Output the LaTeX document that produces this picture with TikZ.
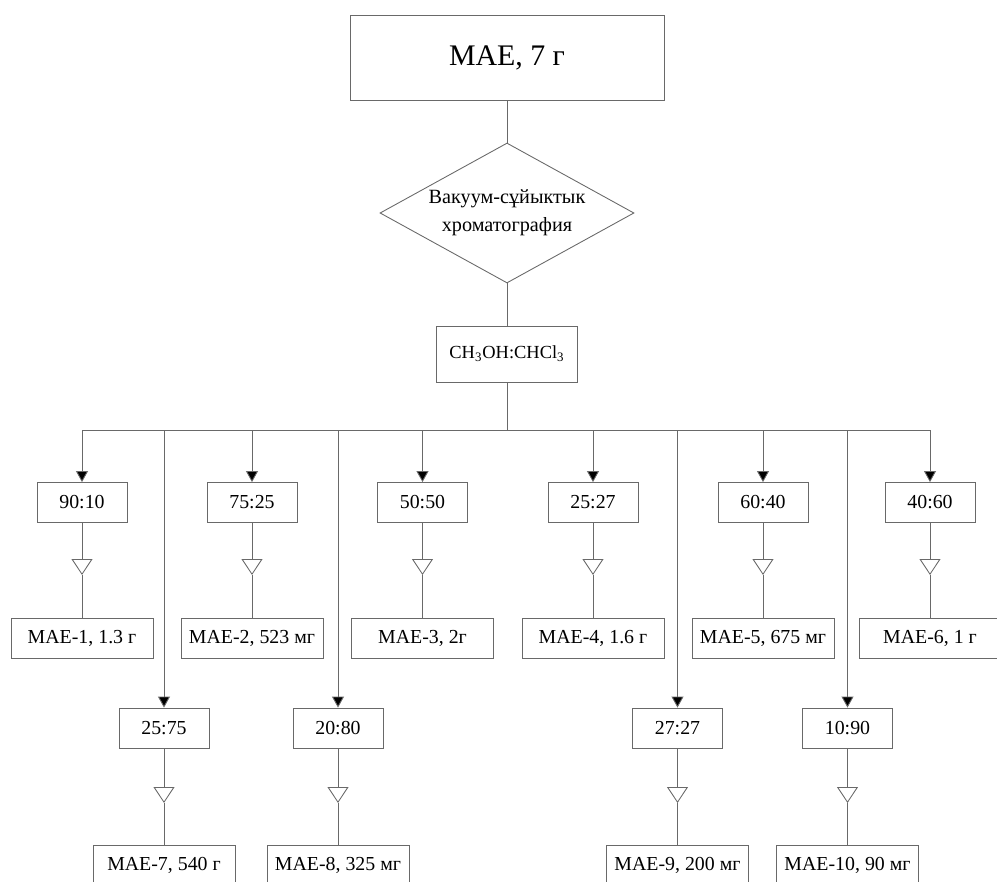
\documentclass[tikz,border=0pt]{standalone}
\usepackage{fontspec}
\setmainfont{Liberation Serif}
\usepackage{xcolor}
\usetikzlibrary{arrows.meta,positioning,shapes.geometric}
\definecolor{lineGray}{RGB}{105,105,105}

\tikzset{
  box/.style={draw=lineGray, line width=0.5pt, fill=white, inner sep=0pt, align=center},
  ratio/.style={box, minimum width=1.8cm, minimum height=0.8cm, font=\fontsize{11.3}{13}\selectfont},
  result/.style={box, minimum width=2.84cm, minimum height=0.8cm, font=\fontsize{11.3}{13}\selectfont},
  link/.style={draw=lineGray, line width=0.5pt},
  feed/.style={link, -{Triangle[length=2.2mm, width=2.4mm, fill=black]}},
  yield/.style={link, -{Triangle[open, length=3.2mm, width=4.2mm]}}
}

\begin{document}
\begin{tikzpicture}
\useasboundingbox (0,0) rectangle (19.94,-17.64);

\node[box, minimum width=6.28cm, minimum height=1.7cm, font=\fontsize{17}{20}\selectfont] (mae) at (10.14,-1.15) {MAE, 7 г};
\node[draw=lineGray, line width=0.5pt, diamond, aspect=1.81, minimum width=5.08cm, minimum height=2.8cm, inner sep=0pt, align=center, font=\fontsize{11.5}{15.8}\selectfont] (vlc) at (10.14,-4.26) {Вакуум-сұйыктык\\хроматография};
\node[box, minimum width=2.82cm, minimum height=1.12cm, font=\fontsize{10.5}{13}\selectfont] (solv) at (10.14,-7.08) {CH\textsubscript{3}OH:CHCl\textsubscript{3}};

% bus under the solvent box
\coordinate (hub) at (10.14,-8.6);
\coordinate (b1) at (1.64,-8.6);
\coordinate (b7) at (3.28,-8.6);
\coordinate (b2) at (5.04,-8.6);
\coordinate (b8) at (6.76,-8.6);
\coordinate (b3) at (8.45,-8.6);
\coordinate (b4) at (11.86,-8.6);
\coordinate (b9) at (13.55,-8.6);
\coordinate (b5) at (15.26,-8.6);
\coordinate (b10) at (16.95,-8.6);
\coordinate (b6) at (18.6,-8.6);

% first row
\node[ratio] (r1) at (1.64,-10.05) {90:10};
\node[ratio] (r2) at (5.04,-10.05) {75:25};
\node[ratio] (r3) at (8.45,-10.05) {50:50};
\node[ratio] (r4) at (11.86,-10.05) {25:27};
\node[ratio] (r5) at (15.26,-10.05) {60:40};
\node[ratio] (r6) at (18.6,-10.05) {40:60};

\coordinate (t1) at (1.64,-11.5);
\coordinate (t2) at (5.04,-11.5);
\coordinate (t3) at (8.45,-11.5);
\coordinate (t4) at (11.86,-11.5);
\coordinate (t5) at (15.26,-11.5);
\coordinate (t6) at (18.6,-11.5);

\node[result] (m1) at (1.64,-12.76) {MAE-1, 1.3 г};
\node[result] (m2) at (5.04,-12.76) {MAE-2, 523 мг};
\node[result] (m3) at (8.45,-12.76) {MAE-3, 2г};
\node[result] (m4) at (11.86,-12.76) {MAE-4, 1.6 г};
\node[result] (m5) at (15.26,-12.76) {MAE-5, 675 мг};
\node[result] (m6) at (18.6,-12.76) {MAE-6, 1 г};

% second row
\node[ratio] (r7) at (3.28,-14.56) {25:75};
\node[ratio] (r8) at (6.76,-14.56) {20:80};
\node[ratio] (r9) at (13.55,-14.56) {27:27};
\node[ratio] (r10) at (16.95,-14.56) {10:90};

\coordinate (t7) at (3.28,-16.06);
\coordinate (t8) at (6.76,-16.06);
\coordinate (t9) at (13.55,-16.06);
\coordinate (t10) at (16.95,-16.06);

\node[result] (m7) at (3.28,-17.3) {MAE-7, 540 г};
\node[result] (m8) at (6.76,-17.3) {MAE-8, 325 мг};
\node[result] (m9) at (13.55,-17.3) {MAE-9, 200 мг};
\node[result] (m10) at (16.95,-17.3) {MAE-10, 90 мг};

\draw[link] (mae)--(vlc);
\draw[link] (vlc)--(solv);
\draw[link] (solv)--(hub);
\draw[link] (b1)--(b6);

\draw[feed] (b1)--(r1);
\draw[feed] (b2)--(r2);
\draw[feed] (b3)--(r3);
\draw[feed] (b4)--(r4);
\draw[feed] (b5)--(r5);
\draw[feed] (b6)--(r6);
\draw[feed] (b7)--(r7);
\draw[feed] (b8)--(r8);
\draw[feed] (b9)--(r9);
\draw[feed] (b10)--(r10);

\draw[yield] (r1)--(t1); \draw[link] (t1)--(m1);
\draw[yield] (r2)--(t2); \draw[link] (t2)--(m2);
\draw[yield] (r3)--(t3); \draw[link] (t3)--(m3);
\draw[yield] (r4)--(t4); \draw[link] (t4)--(m4);
\draw[yield] (r5)--(t5); \draw[link] (t5)--(m5);
\draw[yield] (r6)--(t6); \draw[link] (t6)--(m6);
\draw[yield] (r7)--(t7); \draw[link] (t7)--(m7);
\draw[yield] (r8)--(t8); \draw[link] (t8)--(m8);
\draw[yield] (r9)--(t9); \draw[link] (t9)--(m9);
\draw[yield] (r10)--(t10); \draw[link] (t10)--(m10);
\end{tikzpicture}
\end{document}
